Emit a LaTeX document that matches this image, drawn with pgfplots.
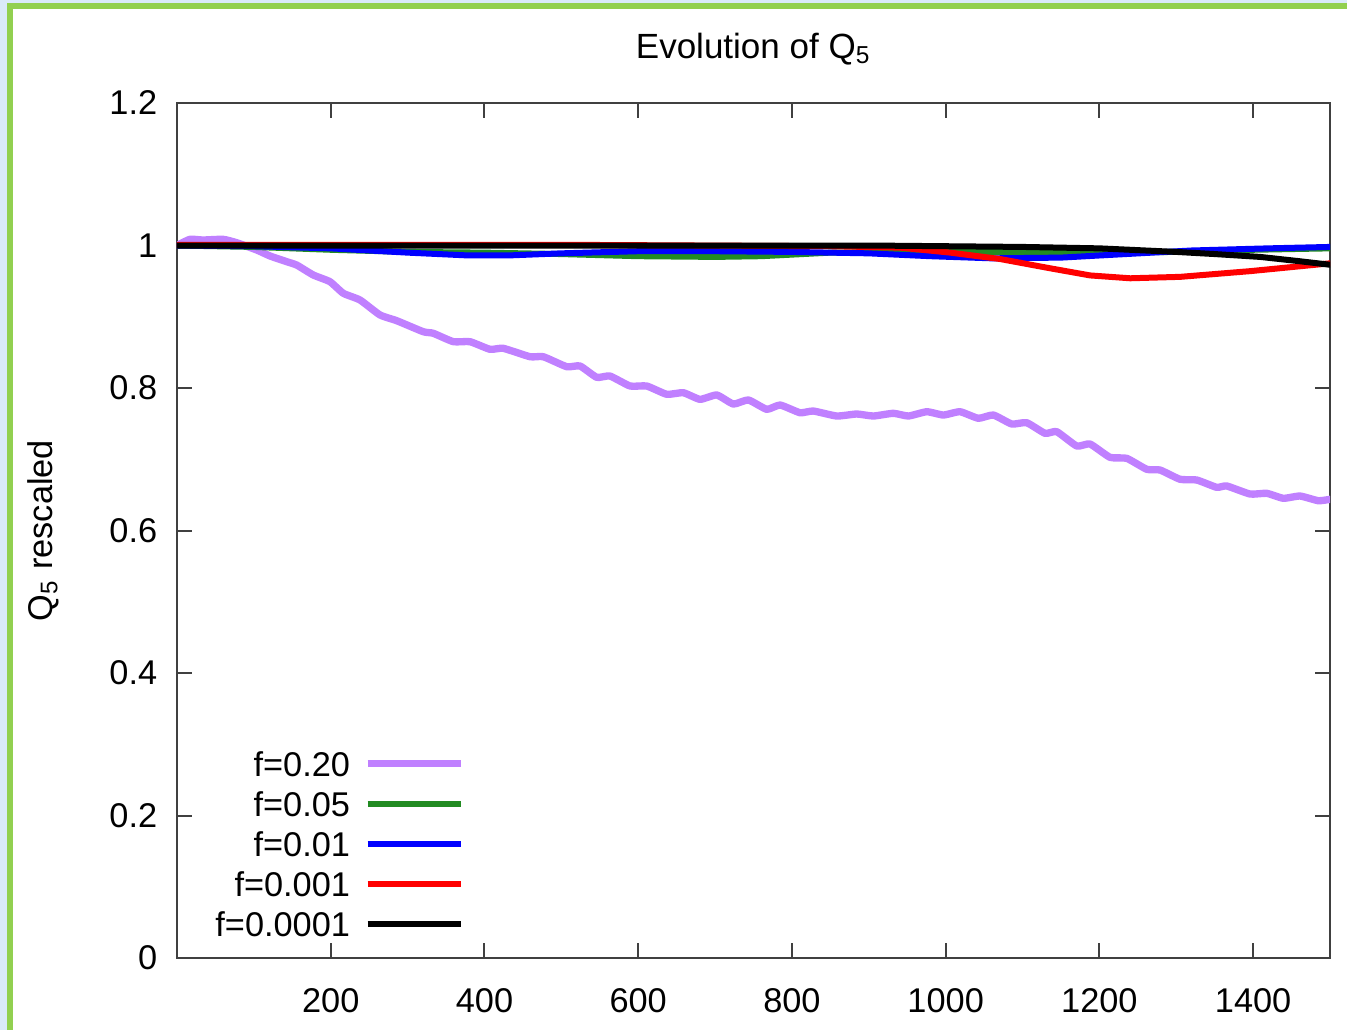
\documentclass[border=0pt]{standalone}
\usepackage{pgfplots}
\pgfplotsset{compat=1.18}
\usepackage{fontspec}
\setmainfont{Liberation Sans}
\definecolor{cpurple}{RGB}{192,128,255}
\definecolor{cgreen}{RGB}{34,139,34}
\definecolor{frameg}{RGB}{146,208,80}
\definecolor{framebl}{RGB}{218,234,250}
\definecolor{axgray}{RGB}{64,64,64}
\begin{document}
\begin{tikzpicture}
\begin{axis}[name=ax, at={(0,0)}, anchor=south west,
 scale only axis, width=345.9pt, height=256.5pt,
 xmin=0, xmax=1500, ymin=0, ymax=1.2,
 xtick={200,400,600,800,1000,1200,1400},
 ytick={0,0.2,0.4,0.6,0.8,1,1.2},
 minor tick num=0,
 tick align=inside,
 major tick length=4.5pt,
 axis line style={axgray, line width=0.6pt},
 every tick/.style={axgray, line width=0.6pt},
 /pgf/number format/assume math mode=true,
 /pgf/number format/1000 sep={},
 tick label style={font=\fontsize{10.3}{12}\selectfont},
 xticklabel style={yshift=-5.6pt},
 yticklabel style={xshift=-2.4pt},
 title={Evolution of Q\textsubscript{5}},
 every axis title/.style={font=\fontsize{10.5}{12}\selectfont, at={(axis description cs:0.5,1.063)}, anchor=center},
 ylabel={Q\textsubscript{5} rescaled},
 every axis y label/.style={at={(axis description cs:-0.1162,0.5)}, rotate=90, anchor=center, font=\fontsize{10.3}{12}\selectfont},
 legend plot pos=right,
 legend cell align=right,
 legend image code/.code={\draw[#1, line cap=butt] (0pt,0pt) -- (27.9pt,0pt);},
 legend style={at={(axis description cs:0.2498,0.2427)}, anchor=north east, draw=none, fill=none, inner sep=0pt, font=\fontsize{10.3}{12}\selectfont, row sep=4.5pt, column sep=4.2pt, nodes={inner sep=0pt, text height=7.5pt, text depth=0pt}},
 every axis plot/.append style={no markers, line join=round, line cap=round},
]
\addplot[cpurple, line width=2.2pt, smooth, tension=0.3] coordinates {
(0,1.0) (16.9,1.0087) (33.8,1.0077) (59.8,1.0087) (77.7,1.0039) (103.7,0.9937)
(121.0,0.9853) (142.7,0.9773) (155.7,0.9726) (177.3,0.9586) (199.0,0.9492)
(216.4,0.9329) (238.1,0.9235) (264.1,0.9025) (285.8,0.8945) (320.4,0.8790)
(333.4,0.8768) (359.5,0.8650) (381.2,0.8650) (407.2,0.8543) (424.5,0.8557)
(459.3,0.8439) (476.6,0.8439) (507.0,0.8299) (524.3,0.8309) (546.0,0.8150)
(563.3,0.8168) (589.4,0.8028) (611.1,0.8028) (637.1,0.7912) (658.7,0.7934)
(680.4,0.7841) (702.2,0.7902) (723.8,0.7775) (743.3,0.7832) (767.2,0.7701)
(784.7,0.7761) (810.5,0.7653) (827.8,0.7677) (858.3,0.7607) (884.3,0.7635)
(905.9,0.7607) (931.9,0.7645) (951.5,0.7607) (975.4,0.7667) (997.0,0.7621)
(1018.7,0.7667) (1042.5,0.7575) (1062.0,0.7621) (1085.9,0.7495) (1105.4,0.7513)
(1129.3,0.7364) (1144.5,0.7387) (1170.5,0.7186) (1187.8,0.7214) (1213.8,0.7027)
(1235.6,0.7013) (1261.6,0.6859) (1278.9,0.6849) (1304.9,0.6719) (1326.6,0.6709)
(1352.6,0.6606) (1365.7,0.6625) (1396.0,0.6512) (1417.7,0.6522) (1439.3,0.6452)
(1461.0,0.6484) (1484.8,0.6418) (1500,0.6438)};
\addlegendentry{f=0.20}
\addplot[cgreen, line width=1.8pt] coordinates {
(0,1.0) (100,0.998) (200,0.994) (300,0.991) (400,0.990) (500,0.988) (600,0.985)
(700,0.984) (760,0.985) (850,0.990) (1000,0.991) (1200,0.990) (1300,0.991)
(1400,0.994) (1500,0.996)};
\addlegendentry{f=0.05}
\addplot[blue, line width=1.8pt] coordinates {
(0,1.0) (100,0.999) (200,0.996) (300,0.990) (380,0.986) (430,0.986) (500,0.989)
(600,0.992) (700,0.992) (800,0.991) (900,0.989) (980,0.985) (1060,0.982)
(1150,0.983) (1200,0.986) (1320,0.993) (1420,0.996) (1500,0.998)};
\addlegendentry{f=0.01}
\addplot[red, line width=1.8pt] coordinates {
(0,1.001) (500,1.001) (850,0.999) (941,0.997) (1006,0.990) (1071,0.981)
(1136,0.968) (1188,0.958) (1240,0.954) (1305,0.956) (1396,0.964) (1500,0.975)};
\addlegendentry{f=0.001}
\addplot[black, line width=1.8pt] coordinates {
(0,1.0) (500,1.0) (900,1.0) (1000,0.999) (1100,0.998) (1200,0.996) (1300,0.991)
(1350,0.988) (1409,0.984) (1460,0.978) (1500,0.973)};
\addlegendentry{f=0.0001}
\end{axis}
\pgfresetboundingbox
\coordinate (BL) at ([shift={(-53.1pt,-21.6pt)}]ax.south west);
\coordinate (TR) at ([shift={(5.1pt,30.9pt)}]ax.north east);
\useasboundingbox (BL) rectangle (TR);
\begin{scope}[shift={(BL)}]
\fill[framebl] (0,308.1pt) rectangle (404.1pt,309pt);
\fill[framebl] (0,0) rectangle (2.1pt,309pt);
\fill[frameg] (2.1pt,306.3pt) rectangle (404.1pt,308.1pt);
\fill[frameg] (2.1pt,0) rectangle (3.9pt,308.1pt);
\end{scope}
\end{tikzpicture}
\end{document}
